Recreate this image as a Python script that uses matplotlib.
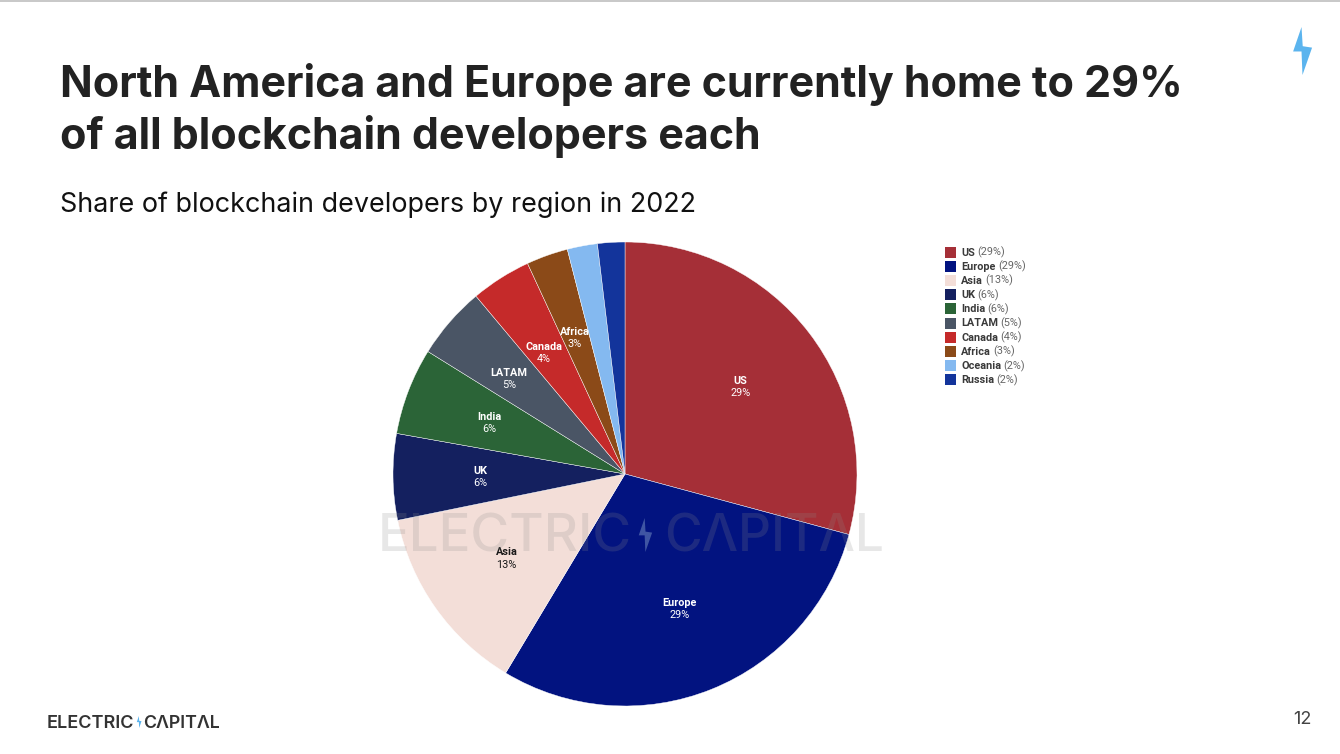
import matplotlib
matplotlib.use("Agg")
import matplotlib.pyplot as plt
from matplotlib.patches import Polygon, Rectangle
import numpy as np

regions = ["US", "Europe", "Asia", "UK", "India", "LATAM", "Canada", "Africa", "Oceania", "Russia"]
shares = [29.2, 29.4, 13.2, 6.0, 6.05, 5.05, 4.2, 2.9, 2.1, 1.9]
percent_labels = [29, 29, 13, 6, 6, 5, 4, 3, 2, 2]
colors = ["#A52F37", "#021380", "#F3DED8", "#14205F", "#2B6437",
          "#4A5565", "#C52A2A", "#8B4A18", "#84B9F0", "#13349B"]
labelled = ["US", "Europe", "Asia", "UK", "India", "LATAM", "Canada", "Africa"]

title_lines = ["North America and Europe are currently home to 29%", "of all blockchain developers each"]
subtitle = "Share of blockchain developers by region in 2022"

W, H = 1340, 754
fig = plt.figure(figsize=(W / 100, H / 100), dpi=100, facecolor="white")

bg = fig.add_axes([0, 0, 1, 1])
bg.set_xlim(0, W); bg.set_ylim(H, 0); bg.axis("off")

bg.add_patch(Rectangle((0, 0), W, 2, color="#C9C9C9", lw=0))
INK = "#222222"
for y, line in zip([85, 136], title_lines):
    bg.text(60, y, line, fontsize=30.95, fontweight="bold", family="Inter", color=INK, va="center", ha="left")
bg.text(60, 205, subtitle, fontsize=19.4, family="Inter", color="#111111", va="center", ha="left")
bg.text(1293, 719, "12", fontsize=13, family="Inter", color="#444444", va="center", ha="left")

BOLT = "#5BB4EE"
def bolt(ax, x, y, s, color=BOLT, alpha=1, zorder=3):
    pts = [(-0.02, -1.0), (-0.37, 0.02), (-0.02, 0.02), (0.02, 1.0), (0.42, -0.14), (0.03, -0.2)]
    ax.add_patch(Polygon([(x + px * s, y + py * s) for px, py in pts], closed=True,
                         fc=color, ec="none", alpha=alpha, zorder=zorder))
bolt(bg, 1302, 51, 24)

bg.text(47, 723, "ELECTRIC", fontsize=13, fontweight="semibold", family="Inter", color="#333333", va="center", ha="left")
bolt(bg, 139, 722, 6)
bg.text(143, 723, "CΛPITΛL", fontsize=12.8, fontweight="semibold", family="Inter", color="#333333", va="center", ha="left")

# pie, centre (625, 474), radius 232 px
R = 232
ax = fig.add_axes([(625 - R) / W, 1 - (474 + R) / H, 2 * R / W, 2 * R / H])
wedges, _ = ax.pie(shares, colors=colors, startangle=90, counterclock=False, radius=1,
                   wedgeprops=dict(edgecolor="white", linewidth=0.3))
ax.set_xlim(-1, 1); ax.set_ylim(-1, 1); ax.set_aspect("equal")
for w in wedges:
    w.set_clip_on(False)

label_radius = {"LATAM": 0.63, "Canada": 0.62, "Africa": 0.625}
for w, name, pct in zip(wedges, regions, percent_labels):
    if name not in labelled:
        continue
    mid = np.deg2rad((w.theta1 + w.theta2) / 2)
    r = label_radius.get(name, 0.625)
    x, y = r * np.cos(mid), r * np.sin(mid)
    col = "#1a1a1a" if name == "Asia" else "white"
    nudge = {"LATAM": -4, "Canada": -3, "Africa": -1}.get(name, 0)
    ax.annotate(name, (x, y), xytext=(nudge, 3.8), textcoords="offset points", ha="center", va="center",
                fontsize=7.8, fontweight="bold", family="Roboto", color=col)
    ax.annotate(f"{pct}%", (x, y), xytext=(nudge, -5), textcoords="offset points", ha="center", va="center",
                fontsize=7.8, family="Roboto", color=col)

# overlay with watermark
top = fig.add_axes([0, 0, 1, 1])
top.set_xlim(0, W); top.set_ylim(H, 0); top.axis("off"); top.patch.set_alpha(0)
WM = "#8A8A8A"
top.text(378, 538, "ELECTRIC", fontsize=38, fontweight="medium", family="Inter", color=WM, alpha=0.2, va="center", ha="left")
bolt(top, 645, 535, 17, color="#9DB9D8", alpha=0.4)
top.text(664, 538, "CΛPITΛL", fontsize=37, fontweight="medium", family="Inter", color=WM, alpha=0.2, va="center", ha="left")

# legend
fig.canvas.draw()
rend = fig.canvas.get_renderer()
inv = top.transData.inverted()
for i, (name, pct, c) in enumerate(zip(regions, percent_labels, colors)):
    yc = 252 + i * 14.2
    top.add_patch(Rectangle((945, yc - 5.5), 10.5, 11, fc=c, ec="none"))
    t = top.text(961, yc + 3.5, name, fontsize=7.8, fontweight="bold", family="Roboto",
                 color="#3a3a3a", va="baseline", ha="left")
    xe = inv.transform((t.get_window_extent(rend).x1, 0))[0]
    top.text(xe + 2.5, yc + 3.5, f"({pct}%)", fontsize=7.8, family="Roboto",
             color="#666666", va="baseline", ha="left")

fig.savefig("out.png", dpi=100, facecolor="white")
